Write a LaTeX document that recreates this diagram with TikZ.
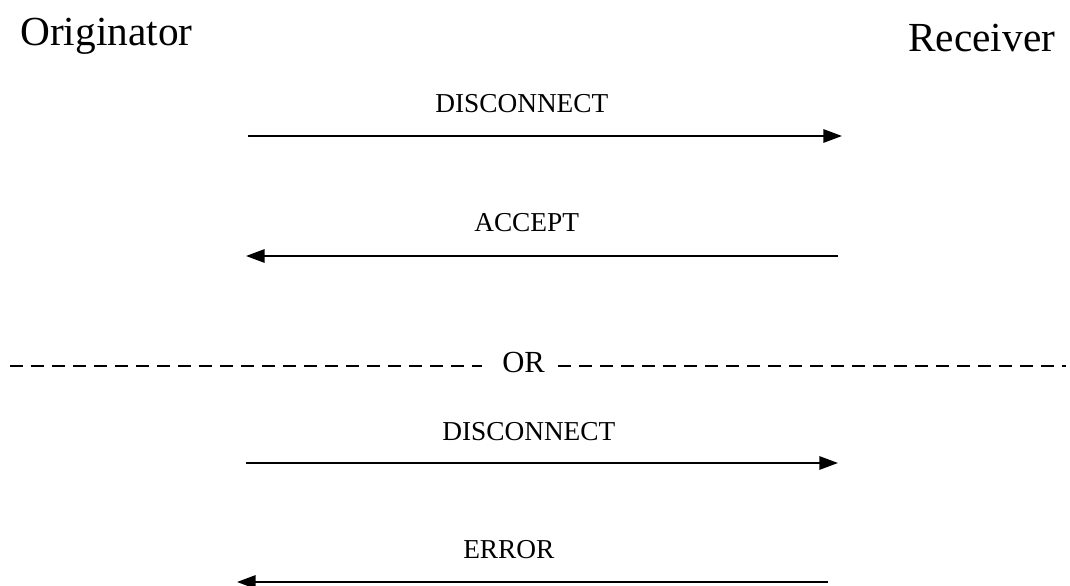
\documentclass[tikz,border=0pt]{standalone}
\usepackage{fontspec}
\setmainfont{Liberation Serif}
\usetikzlibrary{arrows.meta}
\begin{document}
\begin{tikzpicture}[x=0.75pt,y=-0.75pt,
  party/.style={anchor=base west,inner sep=0pt,font=\fontsize{31}{36}\selectfont},
  msg/.style={anchor=base west,inner sep=0pt,font=\fontsize{20.5}{24}\selectfont},
  ortext/.style={anchor=base west,inner sep=0pt,font=\fontsize{23}{27}\selectfont},
  msgarrow/.style={line width=1.5pt,-{Triangle[length=14pt,width=10pt]}},
  sep/.style={line width=1.2pt,dash pattern=on 9.75pt off 6pt}]
\useasboundingbox (0,0) rectangle (1070,585);
% parties
\node[party] (orig) at (20,46) {Originator};
\node[party] (recv) at (908,52) {Receiver};
% labels
\node[msg] (l1) at (435,112) {DISCONNECT};
\node[msg] (l2) at (474,231) {ACCEPT};
\node[msg] (l3) at (442,440) {DISCONNECT};
\node[msg] (l4) at (463,558) {ERROR};
\node[ortext] (or) at (502,372) {OR};
% arrow endpoints
\coordinate (a1s) at (248,136);
\coordinate (a1e) at (842,136);
\coordinate (a2s) at (838,256);
\coordinate (a2e) at (246,256);
\coordinate (a3s) at (246,463);
\coordinate (a3e) at (838,463);
\coordinate (a4s) at (828,582);
\coordinate (a4e) at (237,582);
\coordinate (d1s) at (10,366);
\coordinate (d1e) at (482,366);
\coordinate (d2s) at (558,366);
\coordinate (d2e) at (1066,366);
% arrows
\draw[msgarrow] (a1s) -- (a1e);
\draw[msgarrow] (a2s) -- (a2e);
\draw[msgarrow] (a3s) -- (a3e);
\draw[msgarrow] (a4s) -- (a4e);
% separator
\draw[sep] (d1s) -- (d1e);
\draw[sep] (d2s) -- (d2e);
\end{tikzpicture}
\end{document}
